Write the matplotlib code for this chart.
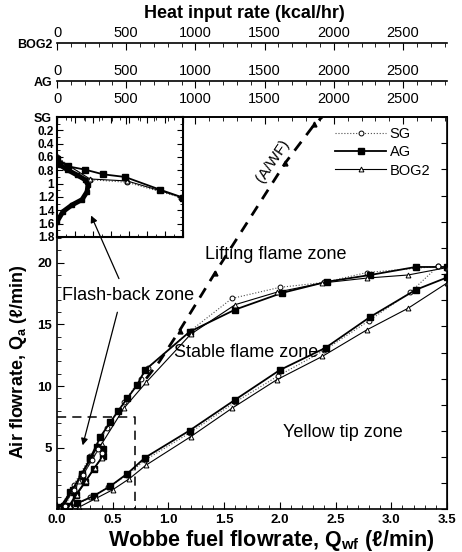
import matplotlib
matplotlib.use('Agg')
import matplotlib.pyplot as plt
from matplotlib.ticker import MultipleLocator, FormatStrFormatter, FixedLocator

plt.rcParams['font.family'] = ['Liberation Sans', 'DejaVu Sans']
plt.rcParams['mathtext.fontset'] = 'custom'
plt.rcParams['mathtext.rm'] = 'Liberation Sans'
plt.rcParams['mathtext.bf'] = 'Liberation Sans:bold'
plt.rcParams['mathtext.it'] = 'Liberation Sans:italic'

# ---- data (Wobbe fuel flowrate l/min vs air flowrate l/min) ----
# upper (lifting) limit
sg_up_x = [0.03, 0.15, 0.30, 0.45, 0.60, 0.75, 0.82, 1.20, 1.57, 2.00, 2.40, 2.78, 3.42]
sg_up_y = [0.2, 2.0, 4.3, 6.6, 8.7, 10.6, 11.5, 14.5, 17.1, 18.0, 18.4, 19.2, 19.7]
ag_up_x = [0.03, 0.12, 0.22, 0.30, 0.39, 0.48, 0.55, 0.63, 0.72, 0.79, 1.19, 1.60, 2.02, 2.42, 2.81, 3.22, 3.50]
ag_up_y = [0.2, 1.4, 2.7, 4.2, 5.9, 7.1, 8.0, 9.0, 10.1, 11.3, 14.4, 16.2, 17.55, 18.45, 19.0, 19.65, 19.65]
bog_up_x = [0.03, 0.20, 0.40, 0.60, 0.80, 1.20, 1.60, 1.97, 2.38, 2.78, 3.15, 3.50]
bog_up_y = [0.1, 2.3, 5.3, 8.2, 10.3, 14.2, 16.6, 17.6, 18.35, 18.75, 19.0, 19.6]

# lower (yellow tip) limit
sg_lo_x = [0.16, 0.30, 0.46, 0.63, 0.79, 1.19, 1.60, 1.98, 2.40, 2.80, 3.17, 3.42]
sg_lo_y = [0.3, 1.0, 1.8, 2.8, 4.0, 6.2, 8.7, 10.8, 12.9, 15.3, 17.6, 19.7]
ag_lo_x = [0.18, 0.33, 0.48, 0.63, 0.79, 1.19, 1.60, 2.00, 2.41, 2.81, 3.22, 3.50]
ag_lo_y = [0.5, 1.1, 1.9, 2.9, 4.2, 6.4, 8.9, 11.3, 13.1, 15.6, 17.8, 18.8]
bog_lo_x = [0.20, 0.35, 0.50, 0.65, 0.80, 1.20, 1.57, 1.97, 2.38, 2.78, 3.15, 3.50]
bog_lo_y = [0.2, 0.9, 1.6, 2.5, 3.6, 5.9, 8.2, 10.5, 12.4, 14.55, 16.3, 18.35]

# flash-back loops
ag_fb_x = [0.06, 0.14, 0.22, 0.30, 0.36, 0.41, 0.41, 0.33, 0.25, 0.17, 0.11]
ag_fb_y = [0.3, 1.6, 2.9, 4.1, 5.1, 4.9, 4.3, 3.3, 2.2, 1.2, 0.3]
sg_fb_x = [0.07, 0.15, 0.23, 0.31, 0.37, 0.40]
sg_fb_y = [0.3, 1.6, 2.8, 4.0, 4.9, 4.6]
bog_fb_x = [0.12, 0.18, 0.26, 0.34, 0.40]
bog_fb_y = [0.3, 1.2, 2.3, 3.4, 4.2]

# A/WF line
awf_x = [0.80, 0.92, 1.10, 1.42, 2.05, 2.31, 2.38]
awf_y = [10.6, 12.0, 14.5, 19.2, 28.1, 31.2, 31.8]

# inset (close-up of flash-back region)
in_loop_x = [0.0, 0.033, 0.083, 0.139, 0.167, 0.172, 0.156, 0.111, 0.056, 0.017, 0.0]
in_loop_y = [1.57, 1.42, 1.32, 1.24, 1.12, 1.02, 0.94, 0.87, 0.79, 0.72, 0.61]
in_ag_x = [0.0, 0.06, 0.156, 0.256, 0.378, 0.572, 0.70]
in_ag_y = [0.63, 0.74, 0.79, 0.86, 0.90, 1.09, 1.21]
in_sg_x = [0.0, 0.183, 0.39, 0.69]
in_sg_y = [0.60, 0.94, 0.98, 1.21]
in_bog_x = [0.0, 0.183, 0.39, 0.69]
in_bog_y = [0.62, 0.93, 0.96, 1.20]
in_yticks = [0.2, 0.4, 0.6, 0.8, 1.0, 1.2, 1.4, 1.6, 1.8]
in_ytick_labels = ['0.2', '0.4', '0.6', '0.8', '1', '1.2', '1.4', '1.6', '1.8']

# heat input scale (kcal/hr), same for the three gases
heat_major = [0, 500, 1000, 1500, 2000, 2500]
heat_minor = list(range(0, 2900, 100))

KCAL_PER_LPM = 805.0
Y_TOP = 31.8
X_MAX = 3.5

sg_style = dict(color='0.3', lw=0.8, ls=':', marker='o', ms=3.5, mfc='white', mec='k', mew=0.7)
ag_style = dict(color='k', lw=1.3, ls='-', marker='s', ms=5, mfc='k', mec='k')
bog_style = dict(color='k', lw=0.8, ls='-', marker='^', ms=3.5, mfc='white', mec='k', mew=0.7)

fig = plt.figure(figsize=(4.62, 5.52), dpi=100)
AX_L, AX_B, AX_W, AX_H = 0.1234, 0.077, 0.8441, 0.711
ax = fig.add_axes([AX_L, AX_B, AX_W, AX_H])

ax.plot(sg_up_x, sg_up_y, label='SG', **sg_style)
ax.plot(ag_up_x, ag_up_y, label='AG', **ag_style)
ax.plot(bog_up_x, bog_up_y, label='BOG2', **bog_style)
ax.plot(sg_lo_x, sg_lo_y, **sg_style)
ax.plot(ag_lo_x, ag_lo_y, **ag_style)
ax.plot(bog_lo_x, bog_lo_y, **bog_style)
ax.plot(ag_fb_x, ag_fb_y, **ag_style)
ax.plot(sg_fb_x, sg_fb_y, **sg_style)
ax.plot(bog_fb_x, bog_fb_y, **bog_style)

ax.plot(awf_x, awf_y, color='k', lw=2, ls=(0, (4, 3)), marker='^', ms=3.5,
        markevery=[2, 3, 4, 5])
ax.plot([0, 0.7, 0.7], [7.5, 7.5, 0], color='k', lw=1.1, ls=(0, (6, 4)))

ax.set_xlim(0, X_MAX)
ax.set_ylim(0, Y_TOP)
ax.xaxis.set_major_locator(MultipleLocator(0.5))
ax.xaxis.set_minor_locator(MultipleLocator(0.1))
ax.xaxis.set_major_formatter(FormatStrFormatter('%.1f'))
ax.set_yticks([5, 10, 15, 20])
ax.yaxis.set_minor_locator(MultipleLocator(1))
ax.tick_params(which='both', direction='in', top=False, right=False, labelsize=9.5)
ax.tick_params(which='major', length=5)
ax.tick_params(which='minor', length=3)
for lab in ax.get_xticklabels() + ax.get_yticklabels():
    lab.set_fontweight('bold')
for sp in ax.spines.values():
    sp.set_linewidth(1.2)

ax.set_xlabel(r'Wobbe fuel flowrate, Q$_{\mathbf{wf}}$ (ℓ/min)', fontsize=15.5,
              fontweight='bold')
ax.xaxis.set_label_coords(0.549, -0.047)
ax.set_ylabel(r'Air flowrate, Q$_{\mathbf{a}}$ (ℓ/min)', fontsize=13, fontweight='bold')
ax.yaxis.set_label_coords(-0.072, 0.376)

# right-hand ticks
sec_r = ax.secondary_yaxis('right', functions=(lambda y: y * 15 / Y_TOP,
                                               lambda v: v * Y_TOP / 15))
sec_r.yaxis.set_major_locator(MultipleLocator(1))
sec_r.tick_params(direction='in', length=4, labelright=False)

ax.legend(loc='upper left', bbox_to_anchor=(0.713, 0.975), frameon=False,
          fontsize=10.5, handlelength=3.5, labelspacing=0.3, handletextpad=0.25,
          borderpad=0, borderaxespad=0)

ax.text(1.96, 20.7, 'Lifting flame zone', fontsize=13, ha='center', va='center')
ax.text(1.70, 12.7, 'Stable flame zone', fontsize=13, ha='center', va='center')
ax.text(2.57, 6.2, 'Yellow tip zone', fontsize=13, ha='center', va='center')
ax.text(1.94, 28.2, '(A/WF)', fontsize=11, ha='center', va='center', rotation=56)
ax.text(0.64, 17.3, 'Flash-back zone', fontsize=13, ha='center', va='center')
ax.annotate('', xy=(0.224, 4.98), xytext=(0.548, 16.2),
            arrowprops=dict(arrowstyle='-|>', lw=0.9, color='k', mutation_scale=10))

# inset
axin = fig.add_axes([AX_L, 0.5707, 0.2727, 0.2174])
axin.plot(in_loop_x, in_loop_y, color='k', lw=3.5, marker='s', ms=3.5)
axin.plot(in_sg_x, in_sg_y, **sg_style)
axin.plot(in_bog_x, in_bog_y, **bog_style)
axin.plot(in_ag_x, in_ag_y, **ag_style)
axin.set_xlim(0, 0.7)
axin.set_ylim(1.8, 0)
axin.set_yticks(in_yticks)
axin.set_yticklabels(in_ytick_labels)
axin.yaxis.set_minor_locator(MultipleLocator(0.1))
axin.xaxis.set_major_locator(MultipleLocator(0.1))
axin.xaxis.set_minor_locator(MultipleLocator(0.05))
axin.tick_params(which='both', direction='in', top=True, right=True, bottom=True,
                 labelbottom=False, labelsize=8.5, pad=2)
axin.tick_params(which='major', length=4)
axin.tick_params(which='minor', length=2)
for lab in axin.get_yticklabels():
    lab.set_fontweight('bold')
for sp in axin.spines.values():
    sp.set_linewidth(1.5)
ann = axin.annotate('', xy=(0.183, 1.44), xycoords='data', xytext=(0.566, 18.5),
                    textcoords=ax.transData, annotation_clip=False,
                    arrowprops=dict(arrowstyle='-|>', lw=0.9, color='k', mutation_scale=10))

# heat input axes on top (one per gas), drawn as thin axes
for name, line_px, pad in [('SG', 117, 8), ('AG', 81, 2), ('BOG2', 43, 2)]:
    yb = 1 - line_px / 552
    hax = fig.add_axes([AX_L, yb - 0.0001, AX_W, 0.0001], zorder=5)
    hax.patch.set_alpha(0)
    hax.set_xlim(0, X_MAX * KCAL_PER_LPM)
    hax.set_yticks([])
    for side in ['bottom', 'left', 'right']:
        hax.spines[side].set_visible(False)
    hax.spines['top'].set_linewidth(1.2)
    hax.xaxis.set_major_locator(FixedLocator(heat_major))
    hax.xaxis.set_minor_locator(FixedLocator(heat_minor))
    hax.xaxis.tick_top()
    hax.tick_params(which='both', direction='in', labelsize=10.5, pad=pad)
    hax.tick_params(which='major', length=5)
    hax.tick_params(which='minor', length=3)
    fig.text(52 / 462, 1 - (line_px + 2) / 552, name, ha='right', va='center',
             fontsize=9, fontweight='bold')

fig.text(0.53, 0.976, 'Heat input rate (kcal/hr)', ha='center', va='center',
         fontsize=13, fontweight='bold')

fig.savefig('out.png', dpi=100)
